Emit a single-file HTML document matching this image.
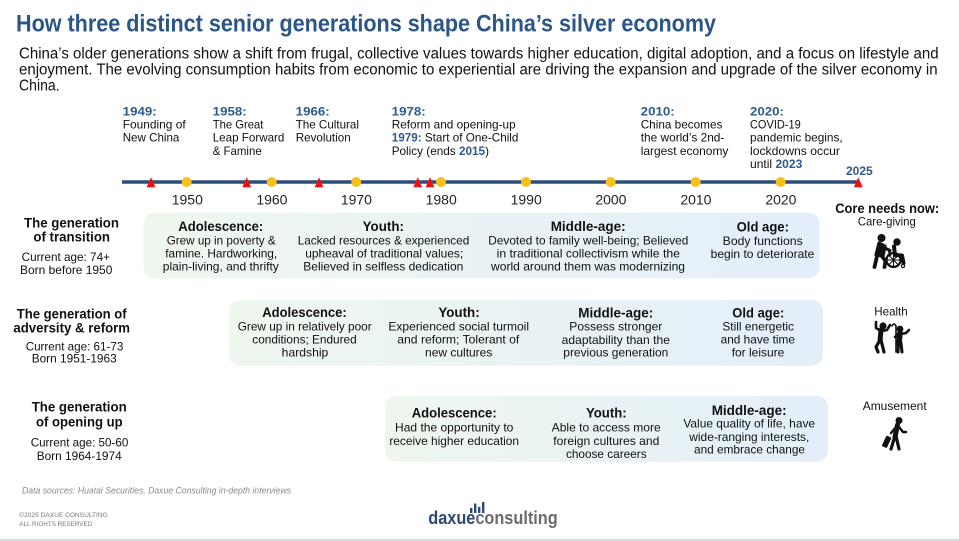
<!DOCTYPE html>
<html><head><meta charset="utf-8"><style>
html,body{margin:0;padding:0;background:#fff;}
svg{display:block;font-family:"Liberation Sans",Arial,sans-serif;}
.b{font-weight:bold;}
.y{fill:#2e5a8e;font-weight:bold;}
</style></head><body>
<svg width="959" height="541" viewBox="0 0 959 541" xmlns="http://www.w3.org/2000/svg">
<defs>
<linearGradient id="g1" x1="0" y1="0" x2="1" y2="0">
<stop offset="0" stop-color="#eef7ee"/><stop offset="1" stop-color="#e3eefa"/>
</linearGradient>
</defs>
<rect width="959" height="541" fill="#fff"/>

<!-- Title -->
<text x="16" y="31.7" font-size="24" font-weight="bold" fill="#2b5688" textLength="700" lengthAdjust="spacingAndGlyphs">How three distinct senior generations shape China’s silver economy</text>
<g font-size="15.5" fill="#111">
<text x="19" y="58.3" textLength="919.6" lengthAdjust="spacingAndGlyphs">China’s older generations show a shift from frugal, collective values towards higher education, digital adoption, and a focus on lifestyle and</text>
<text x="19" y="74.5" textLength="918.6" lengthAdjust="spacingAndGlyphs">enjoyment. The evolving consumption habits from economic to experiential are driving the expansion and upgrade of the silver economy in</text>
<text x="19" y="90.7" textLength="40.6" lengthAdjust="spacingAndGlyphs">China.</text>
</g>

<!-- Event labels -->
<g font-size="12" fill="#111">
<text x="122.7" y="115.5" class="y" textLength="34" lengthAdjust="spacingAndGlyphs">1949:</text>
<text x="122.7" y="128.6" textLength="63" lengthAdjust="spacingAndGlyphs">Founding of</text>
<text x="122.7" y="141.7" textLength="56.7" lengthAdjust="spacingAndGlyphs">New China</text>

<text x="212.7" y="115.5" class="y" textLength="34" lengthAdjust="spacingAndGlyphs">1958:</text>
<text x="212.7" y="128.6" textLength="50.7" lengthAdjust="spacingAndGlyphs">The Great</text>
<text x="212.7" y="141.7" textLength="71.7" lengthAdjust="spacingAndGlyphs">Leap Forward</text>
<text x="212.7" y="154.8" textLength="49" lengthAdjust="spacingAndGlyphs">&amp; Famine</text>

<text x="295.7" y="115.5" class="y" textLength="34" lengthAdjust="spacingAndGlyphs">1966:</text>
<text x="295.7" y="128.6" textLength="63.3" lengthAdjust="spacingAndGlyphs">The Cultural</text>
<text x="295.7" y="141.7" textLength="55" lengthAdjust="spacingAndGlyphs">Revolution</text>

<text x="391.7" y="115.5" class="y" textLength="34" lengthAdjust="spacingAndGlyphs">1978:</text>
<text x="391.7" y="128.6" textLength="124" lengthAdjust="spacingAndGlyphs">Reform and opening-up</text>
<text x="391.7" y="141.7" textLength="126.7" lengthAdjust="spacingAndGlyphs"><tspan class="y">1979:</tspan> Start of One-Child</text>
<text x="391.7" y="154.8" textLength="97.3" lengthAdjust="spacingAndGlyphs">Policy (ends <tspan class="y">2015</tspan>)</text>

<text x="640.7" y="115.5" class="y" textLength="34" lengthAdjust="spacingAndGlyphs">2010:</text>
<text x="640.7" y="128.6" textLength="81.7" lengthAdjust="spacingAndGlyphs">China becomes</text>
<text x="640.7" y="141.7" textLength="83.7" lengthAdjust="spacingAndGlyphs">the world’s 2nd-</text>
<text x="640.7" y="154.8" textLength="87.7" lengthAdjust="spacingAndGlyphs">largest economy</text>

<text x="750" y="115.5" class="y" textLength="34" lengthAdjust="spacingAndGlyphs">2020:</text>
<text x="750" y="128.6" textLength="50.7" lengthAdjust="spacingAndGlyphs">COVID-19</text>
<text x="750" y="141.7" textLength="92.7" lengthAdjust="spacingAndGlyphs">pandemic begins,</text>
<text x="750" y="154.8" textLength="90" lengthAdjust="spacingAndGlyphs">lockdowns occur</text>
<text x="750" y="167.9" textLength="52.3" lengthAdjust="spacingAndGlyphs">until <tspan class="y">2023</tspan></text>

<text x="846" y="175" class="y" textLength="26.7" lengthAdjust="spacingAndGlyphs">2025</text>
</g>

<!-- Timeline -->
<line x1="122" y1="182" x2="858" y2="182" stroke="#2d4d78" stroke-width="3.4"/>
<g fill="#f6c21a">
<circle cx="186.7" cy="182" r="5"/><circle cx="271.7" cy="182" r="5"/><circle cx="356.2" cy="182" r="5"/><circle cx="441" cy="182" r="5"/>
<circle cx="526" cy="182" r="5"/><circle cx="610.7" cy="182" r="5"/><circle cx="695.7" cy="182" r="5"/><circle cx="780.7" cy="182" r="5"/>
</g>
<g fill="#ee1111">
<polygon points="146.6,187.3 155.4,187.3 151,177.3"/>
<polygon points="242.3,187.3 251.1,187.3 246.7,177.3"/>
<polygon points="314.6,187.3 323.4,187.3 319,177.3"/>
<polygon points="413.3,187.3 422.1,187.3 417.7,177.3"/>
<polygon points="425.6,187.3 434.4,187.3 430,177.3"/>
<polygon points="853.9,187.3 862.7,187.3 858.3,177.3"/>
</g>
<g font-size="14" fill="#222" text-anchor="middle">
<text x="187.3" y="204.3">1950</text><text x="271.9" y="204.3">1960</text><text x="356.4" y="204.3">1970</text><text x="441.2" y="204.3">1980</text>
<text x="526.2" y="204.3">1990</text><text x="610.9" y="204.3">2000</text><text x="695.9" y="204.3">2010</text><text x="780.9" y="204.3">2020</text>
</g>

<!-- Boxes -->
<rect x="143.5" y="212.7" width="676" height="65.5" rx="11" fill="url(#g1)"/>
<rect x="229" y="300" width="594" height="65.7" rx="11" fill="url(#g1)"/>
<rect x="385" y="396" width="443" height="65.7" rx="11" fill="url(#g1)"/>

<!-- Generation labels -->
<g font-size="13.5" fill="#111" text-anchor="middle">
<text x="71.5" y="227.3" class="b" textLength="95" lengthAdjust="spacingAndGlyphs">The generation</text>
<text x="71.7" y="241.7" class="b" textLength="76.7" lengthAdjust="spacingAndGlyphs">of transition</text>
<text x="65.8" y="261" font-size="12" textLength="88.3" lengthAdjust="spacingAndGlyphs">Current age: 74+</text>
<text x="66.2" y="274" font-size="12" textLength="92.3" lengthAdjust="spacingAndGlyphs">Born before 1950</text>

<text x="71.7" y="318.3" class="b" textLength="110" lengthAdjust="spacingAndGlyphs">The generation of</text>
<text x="71.7" y="332.7" class="b" textLength="116.7" lengthAdjust="spacingAndGlyphs">adversity &amp; reform</text>
<text x="74.5" y="350.7" font-size="12" textLength="97.6" lengthAdjust="spacingAndGlyphs">Current age: 61-73</text>
<text x="74.2" y="362.7" font-size="12" textLength="85" lengthAdjust="spacingAndGlyphs">Born 1951-1963</text>

<text x="79.2" y="411.7" class="b" textLength="95" lengthAdjust="spacingAndGlyphs">The generation</text>
<text x="79.3" y="426.7" class="b" textLength="86.7" lengthAdjust="spacingAndGlyphs">of opening up</text>
<text x="79.5" y="446.7" font-size="12" textLength="97.6" lengthAdjust="spacingAndGlyphs">Current age: 50-60</text>
<text x="79.2" y="460" font-size="12" textLength="85" lengthAdjust="spacingAndGlyphs">Born 1964-1974</text>
</g>

<!-- Row 1 content -->
<g font-size="12" fill="#111" text-anchor="middle">
<text x="220.8" y="231" font-size="13.5" class="b" textLength="85" lengthAdjust="spacingAndGlyphs">Adolescence:</text>
<text x="221.2" y="244.3" textLength="109" lengthAdjust="spacingAndGlyphs">Grew up in poverty &amp;</text>
<text x="221.2" y="257.3" textLength="112" lengthAdjust="spacingAndGlyphs">famine. Hardworking,</text>
<text x="220.8" y="270.3" textLength="116" lengthAdjust="spacingAndGlyphs">plain-living, and thrifty</text>

<text x="383.3" y="231" font-size="13.5" class="b" textLength="41.3" lengthAdjust="spacingAndGlyphs">Youth:</text>
<text x="383.5" y="244.3" textLength="171.6" lengthAdjust="spacingAndGlyphs">Lacked resources &amp; experienced</text>
<text x="384.2" y="257.3" textLength="158" lengthAdjust="spacingAndGlyphs">upheaval of traditional values;</text>
<text x="383.3" y="270.3" textLength="160" lengthAdjust="spacingAndGlyphs">Believed in selfless dedication</text>

<text x="588.2" y="231" font-size="13.5" class="b" textLength="75" lengthAdjust="spacingAndGlyphs">Middle-age:</text>
<text x="588.3" y="244.3" textLength="200" lengthAdjust="spacingAndGlyphs">Devoted to family well-being; Believed</text>
<text x="588.3" y="257.3" textLength="183.3" lengthAdjust="spacingAndGlyphs">in traditional collectivism while the</text>
<text x="588" y="270.3" textLength="194" lengthAdjust="spacingAndGlyphs">world around them was modernizing</text>

<text x="762.8" y="231.5" font-size="13.5" class="b" textLength="52.3" lengthAdjust="spacingAndGlyphs">Old age:</text>
<text x="762.7" y="245" textLength="80" lengthAdjust="spacingAndGlyphs">Body functions</text>
<text x="762.5" y="258" textLength="103.6" lengthAdjust="spacingAndGlyphs">begin to deteriorate</text>
</g>

<!-- Row 2 content -->
<g font-size="12" fill="#111" text-anchor="middle">
<text x="304.5" y="317" font-size="13.5" class="b" textLength="84.4" lengthAdjust="spacingAndGlyphs">Adolescence:</text>
<text x="304.7" y="330.5" textLength="134" lengthAdjust="spacingAndGlyphs">Grew up in relatively poor</text>
<text x="304.5" y="343.5" textLength="104.4" lengthAdjust="spacingAndGlyphs">conditions; Endured</text>
<text x="305" y="356.5" textLength="46.6" lengthAdjust="spacingAndGlyphs">hardship</text>

<text x="459" y="317" font-size="13.5" class="b" textLength="41.3" lengthAdjust="spacingAndGlyphs">Youth:</text>
<text x="458.7" y="330.5" textLength="140.7" lengthAdjust="spacingAndGlyphs">Experienced social turmoil</text>
<text x="458.3" y="343.5" textLength="122" lengthAdjust="spacingAndGlyphs">and reform; Tolerant of</text>
<text x="458.7" y="356.5" textLength="67.3" lengthAdjust="spacingAndGlyphs">new cultures</text>

<text x="615.8" y="317.3" font-size="13.5" class="b" textLength="75" lengthAdjust="spacingAndGlyphs">Middle-age:</text>
<text x="615.8" y="330.7" textLength="93" lengthAdjust="spacingAndGlyphs">Possess stronger</text>
<text x="615.8" y="344" textLength="108.3" lengthAdjust="spacingAndGlyphs">adaptability than the</text>
<text x="615.8" y="356.7" textLength="105" lengthAdjust="spacingAndGlyphs">previous generation</text>

<text x="758.3" y="317.3" font-size="13.5" class="b" textLength="52" lengthAdjust="spacingAndGlyphs">Old age:</text>
<text x="758.2" y="330.7" textLength="71.7" lengthAdjust="spacingAndGlyphs">Still energetic</text>
<text x="757.8" y="343.7" textLength="74.3" lengthAdjust="spacingAndGlyphs">and have time</text>
<text x="758" y="356.7" textLength="52.6" lengthAdjust="spacingAndGlyphs">for leisure</text>
</g>

<!-- Row 3 content -->
<g font-size="12" fill="#111" text-anchor="middle">
<text x="454.2" y="417.7" font-size="13.5" class="b" textLength="85" lengthAdjust="spacingAndGlyphs">Adolescence:</text>
<text x="454.2" y="431.7" textLength="118.3" lengthAdjust="spacingAndGlyphs">Had the opportunity to</text>
<text x="454.2" y="445" textLength="129.7" lengthAdjust="spacingAndGlyphs">receive higher education</text>

<text x="606.3" y="417.7" font-size="13.5" class="b" textLength="40.7" lengthAdjust="spacingAndGlyphs">Youth:</text>
<text x="606.2" y="431.7" textLength="109" lengthAdjust="spacingAndGlyphs">Able to access more</text>
<text x="606.3" y="445" textLength="106" lengthAdjust="spacingAndGlyphs">foreign cultures and</text>
<text x="606.3" y="458" textLength="80.7" lengthAdjust="spacingAndGlyphs">choose careers</text>

<text x="749.2" y="415" font-size="13.5" class="b" textLength="75" lengthAdjust="spacingAndGlyphs">Middle-age:</text>
<text x="749.2" y="427.7" textLength="131.7" lengthAdjust="spacingAndGlyphs">Value quality of life, have</text>
<text x="749.3" y="441" textLength="120" lengthAdjust="spacingAndGlyphs">wide-ranging interests,</text>
<text x="749.5" y="453.3" textLength="111" lengthAdjust="spacingAndGlyphs">and embrace change</text>
</g>

<!-- Right column -->
<g fill="#111" text-anchor="middle">
<text x="887.2" y="213" font-size="13.5" class="b" textLength="104" lengthAdjust="spacingAndGlyphs">Core needs now:</text>
<text x="886.8" y="225.7" font-size="12" textLength="58" lengthAdjust="spacingAndGlyphs">Care-giving</text>
<text x="891" y="315.7" font-size="12" textLength="33.4" lengthAdjust="spacingAndGlyphs">Health</text>
<text x="894.7" y="410" font-size="12" textLength="64" lengthAdjust="spacingAndGlyphs">Amusement</text>
</g>

<!-- Care-giving icon -->
<g fill="#111" stroke="#111" stroke-linecap="round" stroke-linejoin="round">
<circle cx="881.5" cy="238" r="4" stroke="none"/>
<path d="M879 243 L876 255 L883 256 L885 246 Z" stroke-width="3.2"/>
<path d="M881 246 L890 250.5" stroke-width="3" fill="none"/>
<path d="M877.5 254 L874.5 267" stroke-width="3.8" fill="none"/>
<path d="M881 255 L885.5 261 L884.5 267" stroke-width="3.8" fill="none"/>
<circle cx="897" cy="242" r="3.7" stroke="none"/>
<path d="M894 246.5 L895 255 L902 255.5 L903.5 263" stroke-width="4" fill="none"/>
<path d="M889 250 L890 255" stroke-width="2.4" fill="none"/>
<circle cx="893.5" cy="260" r="7" fill="none" stroke-width="2.2"/>
<path d="M893.5 253.5 V266.5 M887 260 H900 M889 255.5 L898 264.5 M898 255.5 L889 264.5" stroke-width="1.1" fill="none"/>
<circle cx="903" cy="266" r="1.6" fill="none" stroke-width="1.2"/>
</g>

<!-- Health icon -->
<g fill="#111" stroke="#111" stroke-linecap="round" stroke-linejoin="round">
<circle cx="883" cy="326" r="3.6" stroke="none"/>
<path d="M881 330 L880 341" stroke-width="5" fill="none"/>
<path d="M881 331 L876 328 L876 322" stroke-width="2.6" fill="none"/>
<path d="M882 331 L887 330 L890 325" stroke-width="2.6" fill="none"/>
<path d="M880 340 L876 347 L878 352" stroke-width="3.2" fill="none"/>
<path d="M881 340 L884 352" stroke-width="3.2" fill="none"/>
<path d="M892 326 Q894 322 896 326 L896 352" stroke-width="1.6" fill="none"/>
<circle cx="900" cy="329" r="3.4" stroke="none"/>
<path d="M900 333 L899 344" stroke-width="5.5" fill="none"/>
<path d="M898 334 L895 337" stroke-width="2.6" fill="none"/>
<path d="M901 334 L906 333 L909 330" stroke-width="2.6" fill="none"/>
<path d="M898.5 343 L898 352 M901 343 L902 352" stroke-width="3" fill="none"/>
</g>

<!-- Amusement icon -->
<g fill="#111" stroke="#111" stroke-linecap="round" stroke-linejoin="round">
<circle cx="899" cy="420.5" r="3.5" stroke="none"/>
<path d="M897.5 425 L895 437" stroke-width="5" fill="none"/>
<path d="M896 427 L891 433" stroke-width="2.5" fill="none"/>
<path d="M899 427 L903 432 L906 432" stroke-width="2.5" fill="none"/>
<path d="M895 436 L891 449" stroke-width="3.2" fill="none"/>
<path d="M896 436 L899 449" stroke-width="3.2" fill="none"/>
<rect x="884" y="436" width="5.5" height="11.5" rx="1" transform="rotate(25 886.5 441.5)" stroke="none"/>
</g>

<!-- Footer -->
<text x="22" y="493.3" font-size="9.5" font-style="italic" fill="#8a8a8a" textLength="269" lengthAdjust="spacingAndGlyphs">Data sources: Huatai Securities, Daxue Consulting in-depth interviews</text>
<text x="19.3" y="517" font-size="6.8" fill="#777" textLength="88.4" lengthAdjust="spacingAndGlyphs">©2025 DAXUE CONSULTING</text>
<text x="19.3" y="526" font-size="6.8" fill="#777" textLength="73" lengthAdjust="spacingAndGlyphs">ALL RIGHTS RESERVED</text>

<g fill="#2d4a72">
<rect x="470" y="508" width="2.4" height="5"/>
<rect x="474" y="503.5" width="2.4" height="9.5"/>
<rect x="478" y="507" width="2.4" height="6"/>
<rect x="482" y="502" width="2.4" height="11"/>
</g>
<text x="428.3" y="524" font-size="18" font-weight="bold" textLength="129.4" lengthAdjust="spacingAndGlyphs"><tspan fill="#2d4a72">daxue</tspan><tspan fill="#6b6b6b">consulting</tspan></text>

<rect x="0" y="539" width="959" height="2" fill="#dcdcdc"/>
</svg>
</body></html>
